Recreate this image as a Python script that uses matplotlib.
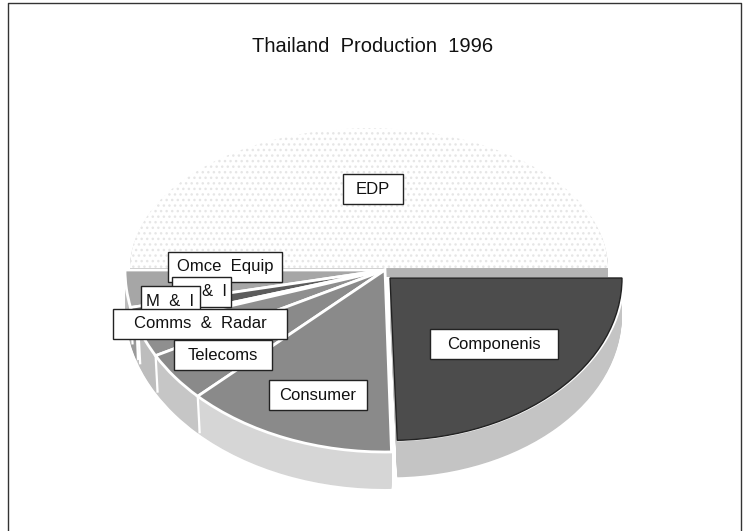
import matplotlib
matplotlib.use("Agg")
import numpy as np
import matplotlib.pyplot as plt
from matplotlib.patches import Rectangle

W, H = 745, 531
FONT = "Liberation Sans"

title = "Thailand  Production  1996"
# slices in percent, anticlockwise from the left-hand horizon
categories = ["Omce  Equip", "&  I", "M  &  I", "Comms  &  Radar", "Telecoms", "Consumer", "Componenis", "EDP"]
values = [3.3, 1.4, 0.4, 2.7, 4.4, 13.2, 24.5, 50.1]
top_colors = ["#a6a6a6", "#5c5c5c", "#e8e8e8", "#8f8f8f", "#8a8a8a", "#8a8a8a", "#4c4c4c", "#ffffff"]
side_colors = ["#bdbdbd", "#9a9a9a", "#c8c8c8", "#bdbdbd", "#c6c6c6", "#d6d6d6", "#c4c4c4", "#b4b4b4"]
# label box: left edge, right edge, centre y; the partly covered box keeps its text at the right
label_boxes = {
    "EDP": (343, 403, 189), "Omce  Equip": (168, 282, 267), "&  I": (172, 231, 292), "M  &  I": (141, 200, 301),
    "Comms  &  Radar": (113, 287, 324), "Telecoms": (174, 272, 355), "Consumer": (269, 367, 395),
    "Componenis": (430, 558, 344),
}
label_order = ["EDP", "Omce  Equip", "&  I", "M  &  I", "Comms  &  Radar", "Telecoms", "Consumer", "Componenis"]
label_text_x = {"&  I": 214}

fig = plt.figure(figsize=(W / 100, H / 100), dpi=100, facecolor="white")
RATIO = 0.70
ax_edp = fig.add_axes([0, 0, 1, 1])
ax = fig.add_axes([0, 0, 1, 1])
ax.patch.set_alpha(0)
ax_txt = fig.add_axes([0, 0, 1, 1])
ax_txt.patch.set_alpha(0)
ax_txt.set_xlim(0, W)
ax_txt.set_ylim(H, 0)
ax_txt.axis("off")


def pie_part(axes, vals, colors, **kw):
    """Pie whose last value is an invisible remainder."""
    wedges, _ = axes.pie(vals, colors=colors + ["white"], **kw)
    wedges[-1].set_visible(False)
    return wedges


# ---- EDP: pale, almost vanished slice lifted above the horizon
EDP_RATIO = 0.585
edp_half = [50, 50]
for off in range(9, 0, -1):
    pie_part(ax_edp, edp_half, [side_colors[-1]], startangle=0, radius=239,
             center=(369, (H - 268 - off) / EDP_RATIO), wedgeprops={"linewidth": 0})
pie_part(ax_edp, edp_half, [top_colors[-1]], startangle=0, radius=239,
         center=(369, (H - 268) / EDP_RATIO),
         wedgeprops={"linewidth": 0, "hatch": "...", "edgecolor": "#e6e6e6"})
ax_edp.set_aspect("auto")
ax_edp.set_xlim(0, W)
ax_edp.set_ylim(0, H / EDP_RATIO)
ax_edp.axis("off")

# ---- main pie (left/bottom slices) and the smaller exploded Components slice
DEPTH = 37
CX, CY, R = 385, 270, 260
CX2, CY2, R2 = 390, 278, 232

left_vals = values[:6]
left_total = sum(left_vals)
main_vals = left_vals + [100 - left_total]
comp_vals = [values[6], 100 - values[6]]
START = 180          # pie runs anticlockwise from the left horizon
COMP_START = 360 - values[6] * 3.6


def to_y(py):
    return (H - py) / RATIO


for off in range(DEPTH, 0, -1):
    pie_part(ax, main_vals, side_colors[:6], startangle=START, radius=R,
             center=(CX, to_y(CY + off)), wedgeprops={"linewidth": 0})
for off in range(DEPTH, 0, -1):
    pie_part(ax, comp_vals, [side_colors[6]], startangle=COMP_START, radius=R2,
             center=(CX2, to_y(CY2 + off)), wedgeprops={"linewidth": 0})

# white dividers on the rim, computed from slice boundaries
angle = START
for v in left_vals[:-1]:
    angle += v * 3.6
    a = np.deg2rad(angle)
    x = CX + R * np.cos(a)
    ytop = to_y(CY) + R * np.sin(a)
    ax.plot([x, x + 2], [ytop, ytop - DEPTH / RATIO], color="white", lw=1.6,
            solid_capstyle="butt", zorder=5)

tops = pie_part(ax, main_vals, top_colors[:6], startangle=START, radius=R,
                center=(CX, to_y(CY)), wedgeprops={"linewidth": 2.0, "edgecolor": "white"})
for t in tops:
    t.set_zorder(6)
gap = pie_part(ax, comp_vals, ["white"], startangle=COMP_START, radius=R2 + 3,
               center=(CX2, to_y(CY2 - 1)), wedgeprops={"linewidth": 0})
comp = pie_part(ax, comp_vals, [top_colors[6]], startangle=COMP_START, radius=R2,
                center=(CX2, to_y(CY2)), wedgeprops={"linewidth": 1.0, "edgecolor": "#222222"})
for t in gap:
    t.set_zorder(7)
for t in comp:
    t.set_zorder(8)
ax.set_aspect("auto")
ax.set_xlim(0, W)
ax.set_ylim(0, H / RATIO)
ax.axis("off")

# ---- text
ax_txt.plot([8, 8, 741, 741], [H, 3, 3, H], color="#333333", lw=1.0)
ax_txt.text(373, 46, title, ha="center", va="center", fontsize=14.5, family=FONT, color="#111111")
for i, name in enumerate(label_order):
    x0, x1, y = label_boxes[name]
    ax_txt.add_patch(Rectangle((x0, y - 15), x1 - x0, 30, facecolor="white", edgecolor="#222222",
                               lw=1.0, zorder=3 + i))
    ax_txt.text(label_text_x.get(name, (x0 + x1) / 2), y, name, ha="center", va="center",
                fontsize=12, family=FONT, color="#111111", zorder=3 + i)

fig.savefig("out.png", dpi=100, facecolor="white")
